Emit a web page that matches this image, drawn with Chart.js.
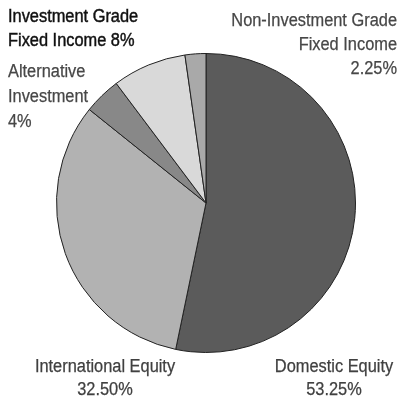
<!DOCTYPE html>
<html>
<head>
<meta charset="utf-8">
<script src="https://cdn.jsdelivr.net/npm/chart.js@4"></script>
<style>
  html, body { margin: 0; padding: 0; background: #fff; }
  #wrap { width: 407px; height: 404px; }
</style>
</head>
<body>
<div id="wrap"><canvas id="miPastel" width="407" height="404"></canvas></div>
<script>
// datos
const categories = ['Domestic Equity', 'International Equity', 'Alternative Investment',
                    'Investment Grade Fixed Income', 'Non-Investment Grade Fixed Income'];
const shares = [53.25, 32.5, 4, 8, 2.25];
const shareLabels = ['53.25%', '32.50%', '4%', '8%', '2.25%'];

// textos de las etiquetas, linea por linea
const labelLines = [
    ['Domestic Equity', shareLabels[0]],
    ['International Equity', shareLabels[1]],
    ['Alternative', 'Investment', shareLabels[2]],
    ['Investment Grade', 'Fixed Income ' + shareLabels[3]],
    ['Non-Investment Grade', 'Fixed Income', shareLabels[4]]
];

const FONT = '"Liberation Sans", Arial, sans-serif';
const SQUEEZE = 0.91; // la letra original es estrecha

const etiquetas = {
    id: 'etiquetas',
    afterDraw(chart) {
        const ctx = chart.ctx;
        // x, baseline y, alineacion, color, interlineado, grosor extra
        const pos = [
            {x: 334, y: 372, align: 'center', color: '#404040', lh: 23, w: 0.25},
            {x: 105, y: 372, align: 'center', color: '#404040', lh: 23, w: 0.25},
            {x: 8,   y: 77,  align: 'left',   color: '#474747', lh: 25, w: 0.25},
            {x: 8,   y: 22,  align: 'left',   color: '#111',    lh: 24, w: 0.45},
            {x: 397, y: 26,  align: 'right',  color: '#474747', lh: 24, w: 0.25}
        ];
        ctx.save();
        ctx.font = '18px ' + FONT;
        ctx.textBaseline = 'alphabetic';
        labelLines.forEach((lines, i) => {
            const p = pos[i];
            ctx.fillStyle = p.color;
            ctx.strokeStyle = p.color;
            ctx.lineWidth = p.w;
            ctx.textAlign = p.align;
            lines.forEach((t, j) => {
                ctx.save();
                ctx.translate(p.x, p.y + j * p.lh);
                ctx.scale(SQUEEZE, 1);
                ctx.fillText(t, 0, 0);
                ctx.strokeText(t, 0, 0);
                ctx.restore();
            });
        });
        ctx.restore();
    }
};

window.onload = function () {
    const ctx = document.getElementById('miPastel').getContext('2d');
    new Chart(ctx, {
        type: 'pie',
        data: {
            labels: categories,
            datasets: [{
                data: shares,
                backgroundColor: ['#5b5b5b', '#b2b2b2', '#888888', '#d9d9d9', '#a9a9a9'],
                borderColor: '#222',
                borderWidth: 1
            }]
        },
        options: {
            responsive: false,
            animation: false,
            layout: { padding: { left: 56, right: 51, top: 53, bottom: 51 } },
            plugins: {
                legend: { display: false },
                tooltip: { enabled: false }
            }
        },
        plugins: [etiquetas]
    });
};
</script>
</body>
</html>
